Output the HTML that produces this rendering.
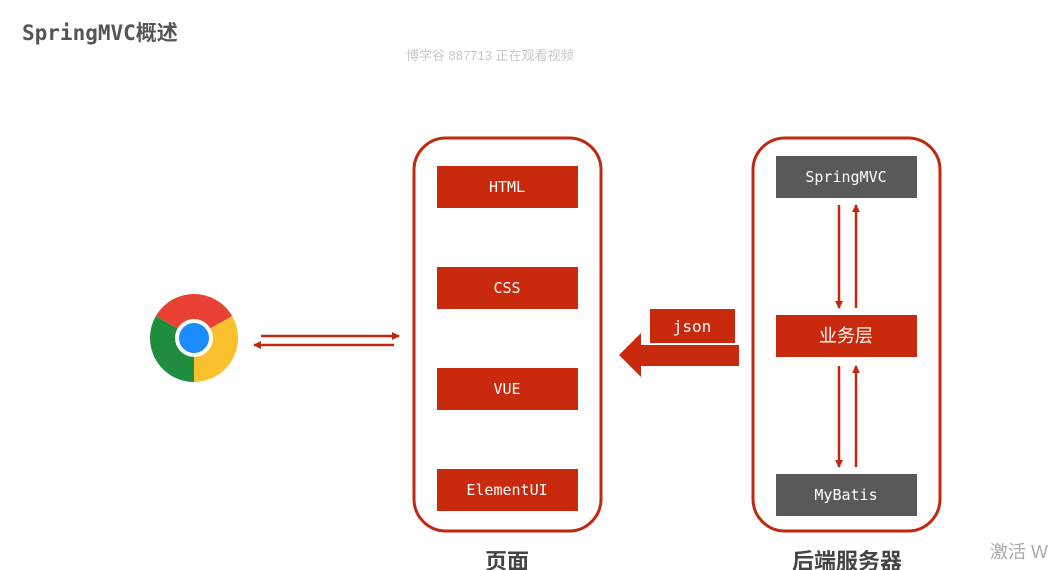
<!DOCTYPE html>
<html><head><meta charset="utf-8"><style>
html,body{margin:0;padding:0;background:#fff;}
svg{display:block;}
</style></head><body>
<svg width="1057" height="570" viewBox="0 0 1057 570" xmlns="http://www.w3.org/2000/svg">
<defs>
<marker id="ah" markerWidth="8" markerHeight="8" refX="7" refY="4" orient="auto" markerUnits="userSpaceOnUse">
<path d="M0,0 L8,4 L0,8 Z" fill="#c0280f"/>
</marker>
</defs>
<rect width="1057" height="570" fill="#fff"/>
<text x="22" y="40" font-family="'DejaVu Sans Mono','Noto Sans CJK SC',monospace" font-weight="bold" font-size="21" fill="#555">SpringMVC概述</text>
<text x="406" y="60" font-family="'Liberation Sans','Noto Sans CJK SC',sans-serif" font-size="13" fill="#c8c8c8">博学谷 887713 正在观看视频</text>

<g transform="translate(194,338)">
<path d="M0,0 L-38.1,-22 A44,44 0 0 1 38.1,-22 Z" fill="#e94235"/>
<path d="M0,0 L38.1,-22 A44,44 0 0 1 0,44 Z" fill="#fbc02d"/>
<path d="M0,0 L0,44 A44,44 0 0 1 -38.1,-22 Z" fill="#1e8e3e"/>
<circle r="19" fill="#fff"/>
<circle r="15" fill="#1a8cff"/>
</g>

<line x1="261" y1="336" x2="399" y2="336" stroke="#c0280f" stroke-width="2.5" marker-end="url(#ah)"/>
<line x1="394" y1="345" x2="254" y2="345" stroke="#c0280f" stroke-width="2.5" marker-end="url(#ah)"/>

<rect x="414" y="138" width="187" height="393" rx="32" fill="none" stroke="#c0280f" stroke-width="3"/>
<g font-family="'DejaVu Sans Mono',monospace" font-size="15" fill="#fff" text-anchor="middle">
<rect x="437" y="166" width="141" height="42" fill="#c9290c"/>
<text x="507" y="192">HTML</text>
<rect x="437" y="267" width="141" height="42" fill="#c9290c"/>
<text x="507" y="293">CSS</text>
<rect x="437" y="368" width="141" height="42" fill="#c9290c"/>
<text x="507" y="394">VUE</text>
<rect x="437" y="469" width="141" height="42" fill="#c9290c"/>
<text x="507" y="495">ElementUI</text>
</g>

<rect x="650" y="309" width="85" height="34" fill="#c9290c"/>
<text x="692" y="332" font-family="'DejaVu Sans Mono',monospace" font-size="16" fill="#fff" text-anchor="middle">json</text>
<path d="M619,355 L641,333 L641,345 L739,345 L739,366 L641,366 L641,377 Z" fill="#c9290c"/>

<rect x="753" y="138" width="187" height="393" rx="32" fill="none" stroke="#c0280f" stroke-width="3"/>
<g font-family="'DejaVu Sans Mono','Noto Sans CJK SC',monospace" font-size="15" fill="#fff" text-anchor="middle">
<rect x="776" y="156" width="141" height="42" fill="#595959"/>
<text x="846" y="182">SpringMVC</text>
<rect x="776" y="315" width="141" height="42" fill="#c9290c"/>
<text x="846" y="342" font-family="'Noto Sans CJK SC',sans-serif" font-size="18">业务层</text>
<rect x="776" y="474" width="141" height="42" fill="#595959"/>
<text x="846" y="500">MyBatis</text>
</g>
<line x1="839" y1="205" x2="839" y2="308" stroke="#c0280f" stroke-width="2.5" marker-end="url(#ah)"/>
<line x1="856" y1="308" x2="856" y2="205" stroke="#c0280f" stroke-width="2.5" marker-end="url(#ah)"/>
<line x1="839" y1="366" x2="839" y2="467" stroke="#c0280f" stroke-width="2.5" marker-end="url(#ah)"/>
<line x1="856" y1="467" x2="856" y2="366" stroke="#c0280f" stroke-width="2.5" marker-end="url(#ah)"/>

<g font-family="'Liberation Sans','Noto Sans CJK SC',sans-serif" font-size="22" font-weight="bold" fill="#444" text-anchor="middle">
<text x="507" y="569">页面</text>
<text x="847" y="569">后端服务器</text>
</g>
<text x="990" y="558" font-family="'Liberation Sans','Noto Sans CJK SC',sans-serif" font-size="18" fill="#aaa">激活 W</text>
</svg>
</body></html>
